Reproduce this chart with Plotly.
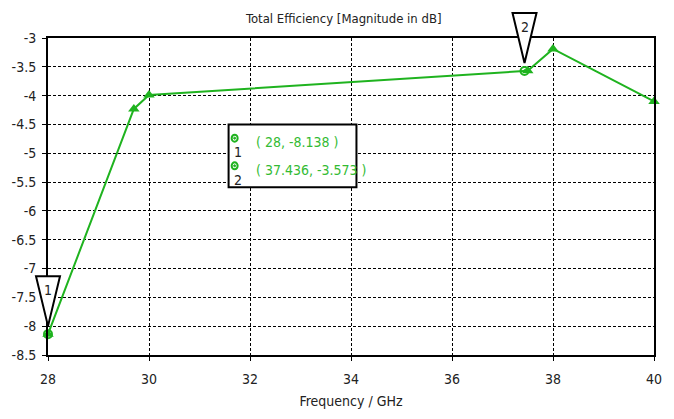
import plotly.graph_objects as go

# Total efficiency samples (GHz, dB)
freq = [28, 29.7, 30, 37.5, 38, 40]
eff_db = [-8.138, -4.23, -3.99, -3.569, -3.19, -4.1]

# Curve markers
marker_ids = ["1", "2"]
marker_freq = [28, 37.436]
marker_db = [-8.138, -3.573]

x_range = [28, 40]
y_range = [-8.5, -3]
x_ticks = [28, 30, 32, 34, 36, 38, 40]
y_ticks = [-3, -3.5, -4, -4.5, -5, -5.5, -6, -6.5, -7, -7.5, -8, -8.5]

GREEN = "#1fb31f"
TEXT = "#222222"
FONT = "DejaVu Sans Condensed, DejaVu Sans, sans-serif"

fig = go.Figure()
fig.add_trace(go.Scatter(
    x=freq, y=eff_db, mode="lines+markers",
    line=dict(color=GREEN, width=2),
    marker=dict(symbol="triangle-up", size=10, color=GREEN),
    showlegend=False, cliponaxis=False,
))
fig.add_trace(go.Scatter(
    x=marker_freq, y=marker_db, mode="markers",
    marker=dict(symbol="circle-open-dot", size=8, color=GREEN,
                line=dict(width=2, color=GREEN)),
    showlegend=False, cliponaxis=False,
))

def to_paper_x(v):
    return (v - x_range[0]) / (x_range[1] - x_range[0])

def to_paper_y(v):
    return (v - y_range[0]) / (y_range[1] - y_range[0])

shapes = []
annotations = []
# Inverted-triangle flags above each marker
for mid, mx, my in zip(marker_ids, marker_freq, marker_db):
    shapes.append(dict(
        type="path", xref="paper", yref="paper",
        xsizemode="pixel", ysizemode="pixel",
        xanchor=to_paper_x(mx), yanchor=to_paper_y(my),
        path="M 0 8 L -12 58 L 12 58 Z",
        line=dict(color="black", width=2), fillcolor="white",
    ))
    annotations.append(dict(
        x=mx, y=my, xref="x", yref="y", text=mid, showarrow=False,
        yshift=44, font=dict(family=FONT, size=14, color=TEXT),
    ))

# Marker readout box
shapes.append(dict(
    type="rect", xref="paper", yref="paper",
    x0=0.298, x1=0.509, y0=0.529, y1=0.727,
    line=dict(color="black", width=2), fillcolor="white",
))
row_y = [0.672, 0.585]
for mid, mx, my, ry in zip(marker_ids, marker_freq, marker_db, row_y):
    annotations.append(dict(
        x=0.34, y=ry, xref="paper", yref="paper",
        xanchor="left", yanchor="middle",
        text=f"( {mx:g}, {my:g} )", showarrow=False,
        font=dict(family=FONT, size=14, color="#33bb33"),
    ))
    # small open-dot icon for the marker row
    shapes.append(dict(
        type="circle", xref="paper", yref="paper",
        xsizemode="pixel", ysizemode="pixel",
        xanchor=0.308, yanchor=ry + 0.012,
        x0=-3, x1=3, y0=-3.5, y1=3.5,
        line=dict(color=GREEN, width=2), fillcolor="white",
    ))
    shapes.append(dict(
        type="circle", xref="paper", yref="paper",
        xsizemode="pixel", ysizemode="pixel",
        xanchor=0.308, yanchor=ry + 0.012,
        x0=-1, x1=1, y0=-1, y1=1,
        line=dict(color=GREEN, width=1), fillcolor=GREEN,
    ))
    annotations.append(dict(
        x=0.313, y=ry - 0.033, xref="paper", yref="paper",
        xanchor="center", yanchor="middle",
        text=mid, showarrow=False,
        font=dict(family=FONT, size=14, color=TEXT),
    ))

axis_common = dict(
    showline=True, linecolor="black", linewidth=2, mirror=True,
    showgrid=True, gridcolor="black", gridwidth=1, griddash="3px,2px",
    ticks="outside", ticklen=4, tickcolor="black",
    zeroline=False, tickfont=dict(family=FONT, size=14, color=TEXT),
)

fig.update_layout(
    width=674, height=419,
    margin=dict(l=45, r=19, t=38, b=62),
    paper_bgcolor="white", plot_bgcolor="white",
    title=dict(text="Total Efficiency [Magnitude in dB]", x=0.51, xanchor="center",
               y=0.957, yanchor="middle",
               font=dict(family=FONT, size=13, color=TEXT)),
    xaxis=dict(range=x_range, tickvals=x_ticks, ticktext=[str(t) for t in x_ticks],
               ticklabelstandoff=6,
               title=dict(text="Frequency / GHz", standoff=10,
                          font=dict(family=FONT, size=14, color=TEXT)),
               **axis_common),
    yaxis=dict(range=y_range, tickvals=y_ticks, ticktext=[f"{t:g}" for t in y_ticks],
               ticklabelstandoff=3,
               **axis_common),
    shapes=shapes, annotations=annotations,
)

fig.write_html("out.html")
